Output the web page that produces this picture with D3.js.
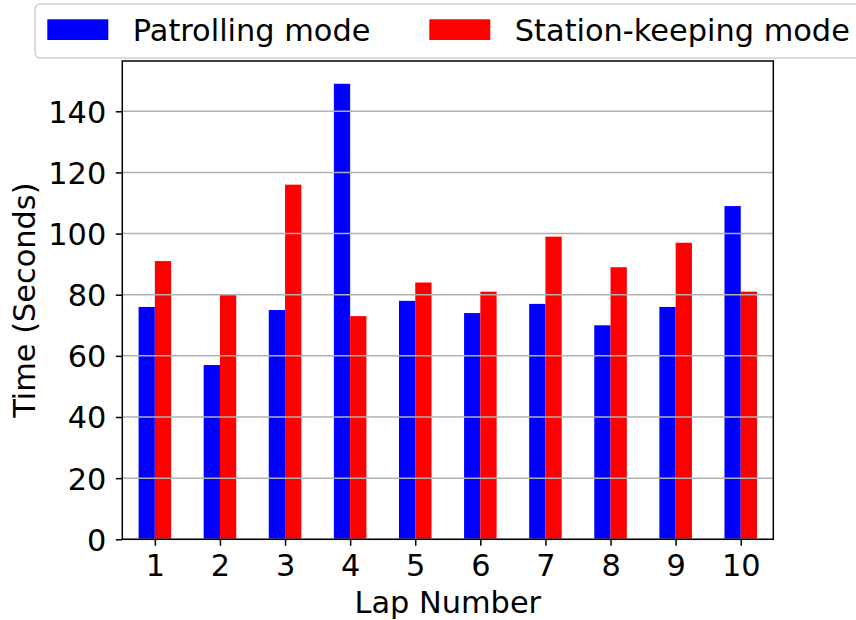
<!DOCTYPE html>
<html>
<head>
<meta charset="utf-8">
<script src="https://cdn.jsdelivr.net/npm/d3@7"></script>
<style>
  html, body { margin: 0; padding: 0; background: #fff; }
  svg { display: block; }
  text { font-family: "DejaVu Sans", sans-serif; fill: #000; }
</style>
</head>
<body>
<svg id="chart" width="856" height="620"></svg>
<script>
const laps = [1, 2, 3, 4, 5, 6, 7, 8, 9, 10];
const patrolling = [76, 57, 75, 149, 78, 74, 77, 70, 76, 109];
const stationKeeping = [91, 80, 116, 73, 84, 81, 99, 89, 97, 81];
const yTicks = [0, 20, 40, 60, 80, 100, 120, 140];
const seriesNames = ["Patrolling mode", "Station-keeping mode"];
const seriesColors = ["#0000ff", "#ff0000"];

const W = 856, H = 620;
const m = { left: 122.3, right: 856 - 773.3, top: 61, bottom: 620 - 539.3 };
const FS = 30.4;
const barW = 0.25;

const svg = d3.select("#chart");
const x = d3.scaleLinear().domain([0.5, 10.5]).range([m.left, W - m.right]);
const yMax = d3.max(patrolling.concat(stationKeeping)) * 1.05;
const y = d3.scaleLinear().domain([0, yMax]).range([H - m.bottom, m.top]);

// bars
const series = [patrolling, stationKeeping];
series.forEach((vals, si) => {
  svg.append("g").selectAll("rect")
    .data(laps.map((l, i) => ({ lap: l, v: vals[i] })))
    .join("rect")
    .attr("x", d => x(d.lap + (si === 0 ? -barW : 0)))
    .attr("width", d => x(d.lap + barW) - x(d.lap))
    .attr("y", d => y(d.v))
    .attr("height", d => y(0) - y(d.v))
    .attr("fill", seriesColors[si]);
});

// grid (on top of bars, like matplotlib)
svg.append("g").selectAll("line")
  .data(yTicks)
  .join("line")
  .attr("x1", x.range()[0]).attr("x2", x.range()[1])
  .attr("y1", d => y(d)).attr("y2", d => y(d))
  .attr("stroke", "#b0b0b0").attr("stroke-width", 1.5);

// axes
const yAxis = d3.axisLeft(y).tickValues(yTicks).tickSize(6.5).tickPadding(9.5);
const gy = svg.append("g").attr("transform", `translate(${m.left},0)`).call(yAxis);
const xAxis = d3.axisBottom(x).tickValues(laps).tickSize(6.5).tickPadding(8);
const gx = svg.append("g").attr("transform", `translate(0,${H - m.bottom})`).call(xAxis);
[gx, gy].forEach(g => {
  g.select(".domain").remove();
  g.selectAll(".tick line").attr("stroke", "#000").attr("stroke-width", 1.5);
  g.selectAll(".tick text").attr("font-size", FS).attr("font-family", "DejaVu Sans").attr("fill", "#000");
});
gy.selectAll(".tick text").attr("dy", "0.36em");
gx.selectAll(".tick text").attr("dy", "0.72em");

// frame
svg.append("rect")
  .attr("x", x.range()[0]).attr("y", m.top)
  .attr("width", x.range()[1] - x.range()[0])
  .attr("height", (H - m.bottom) - m.top)
  .attr("fill", "none").attr("stroke", "#000").attr("stroke-width", 1.5);

// axis labels
svg.append("text")
  .attr("x", (x.range()[0] + x.range()[1]) / 2).attr("y", 613)
  .attr("text-anchor", "middle").attr("font-size", FS)
  .text("Lap Number");
svg.append("text")
  .attr("transform", `translate(35,${(m.top + H - m.bottom) / 2}) rotate(-90)`)
  .attr("text-anchor", "middle").attr("font-size", FS)
  .text("Time (Seconds)");

// legend
const lg = svg.append("g");
lg.append("rect")
  .attr("x", 35).attr("y", 4).attr("width", 830).attr("height", 54)
  .attr("rx", 5).attr("fill", "#fff").attr("fill-opacity", 0.8)
  .attr("stroke", "#d0d0d0").attr("stroke-width", 1.5);
const legendX = [47.3, 429.3];
seriesNames.forEach((name, i) => {
  lg.append("rect")
    .attr("x", legendX[i]).attr("y", 19.3).attr("width", 61).attr("height", 20.7)
    .attr("fill", seriesColors[i]);
  lg.append("text")
    .attr("x", legendX[i] + 85.5).attr("y", 41)
    .attr("font-size", FS)
    .text(name);
});
</script>
</body>
</html>
